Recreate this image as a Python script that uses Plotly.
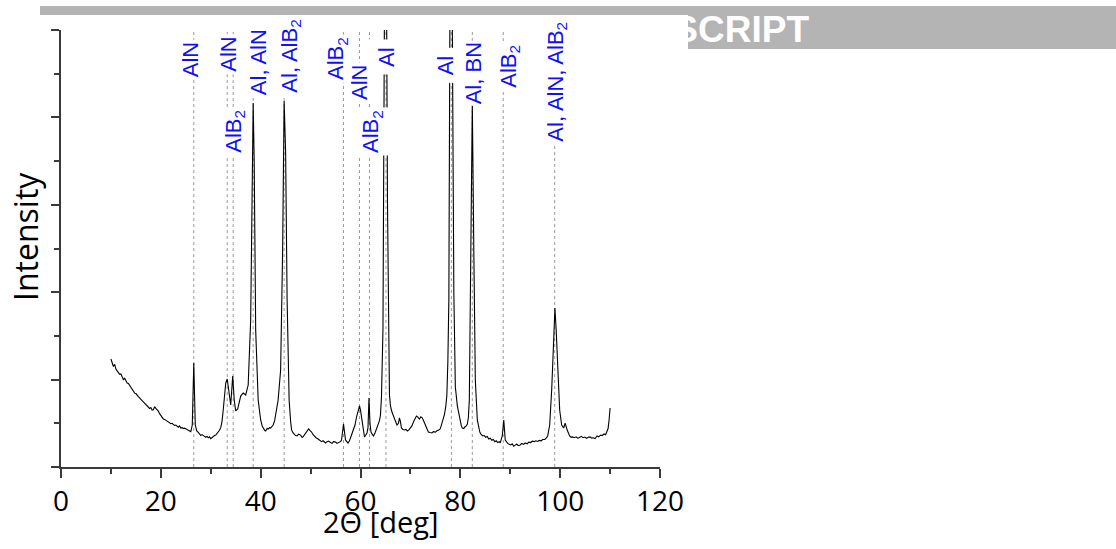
import plotly.graph_objects as go

# XRD scan: diffraction angle 2θ (deg) and detector counts
two_theta = [
    # 10-26 deg
    10.0, 10.25, 10.5, 10.75, 11.0, 11.25, 11.5, 11.75, 12.0, 12.25, 12.5, 12.75, 13.0,
    13.25, 13.5, 13.75, 14.0, 14.25, 14.5, 14.75, 15.0, 15.25, 15.5, 15.75, 16.0, 16.25,
    16.5, 16.75, 17.0, 17.25, 17.5, 17.75, 18.0, 18.25, 18.5, 18.75, 19.0, 19.25, 19.5,
    19.75, 20.0, 20.25, 20.5, 20.75, 21.0, 21.25, 21.5, 21.75, 22.0, 22.25, 22.5, 22.75,
    23.0, 23.25, 23.5, 23.75, 24.0, 24.25, 24.5, 24.75, 25.0, 25.25, 25.5, 25.75, 26.0,
    # 26-32 deg
    26.3, 26.6, 26.9, 27.2, 27.5, 27.75, 28.0, 28.25, 28.5, 28.75, 29.0, 29.25, 29.5,
    29.75, 30.0, 30.25, 30.5, 30.75, 31.0, 31.25, 31.5, 31.75, 32.0, 32.25,
    # 32-40 deg
    32.5, 33.0, 33.3, 33.7, 34.0, 34.4, 34.7, 35.0, 35.4, 36.0, 36.5, 37.0, 37.5, 38.0,
    38.3, 38.5, 38.7, 39.0, 39.5,
    # 40-46 deg
    39.8, 40.0, 40.3, 40.5, 40.8, 41.0, 41.3, 41.5, 41.8, 42.0, 42.3, 42.5, 42.8, 43.0,
    43.3, 43.5, 44.0, 44.4, 44.7, 45.0, 45.3, 45.7, 46.0,
    # 46-57 deg
    46.2, 46.5, 46.7, 47.0, 47.3, 47.6, 48.0, 48.3, 48.5, 48.8, 49.0, 49.3, 49.6, 49.9,
    50.2, 50.5, 50.8, 51.1, 51.5, 51.8, 52.2, 52.5, 52.8, 53.0, 53.3, 53.6, 54.0, 54.3,
    54.6, 55.0, 55.3, 55.7, 56.0, 56.2, 56.6,
    # 57-65 deg
    57.0, 57.3, 57.5, 57.8, 58.0, 58.3, 58.6, 58.9, 59.2, 59.5, 59.8, 60.0, 60.3, 60.5,
    60.8, 61.0, 61.3, 61.5, 61.7, 61.9, 62.1, 62.4, 62.6, 62.9, 63.1, 63.4, 63.6, 63.8,
    64.0, 64.2, 64.5,
    # 65-78 deg
    64.9, 65.1, 65.4, 65.8, 66.0, 66.3, 66.6, 66.8, 67.0, 67.3, 67.6, 67.8, 68.0, 68.2,
    68.5, 68.8, 69.1, 69.4, 69.7, 70.0, 70.3, 70.6, 70.9, 71.2, 71.5, 71.8, 72.1, 72.4,
    72.7, 73.0, 73.3, 73.6, 73.9, 74.3, 74.6, 75.0, 75.3, 75.7, 76.0, 76.3, 76.6, 76.8,
    77.1, 77.3, 77.5, 77.7,
    # 78-84 deg
    78.0, 78.3, 78.7, 79.0, 79.4, 79.9, 80.2, 80.4, 80.7, 80.9, 81.2, 81.4, 81.6, 81.8,
    82.1, 82.4, 82.7, 83.0, 83.4, 83.9,
    # 84-98 deg
    84.2, 84.5, 84.8, 85.1, 85.4, 85.7, 86.0, 86.3, 86.6, 86.9, 87.2, 87.5, 87.8, 88.0,
    88.4, 88.7, 89.0, 89.3, 89.5, 89.8, 90.1, 90.4, 90.7, 91.0, 91.3, 91.6, 92.0, 92.3,
    92.7, 93.0, 93.4, 93.7, 94.1, 94.4, 94.8, 95.1, 95.5, 95.8, 96.2, 96.5, 96.9, 97.2,
    97.5,
    # 98-102 deg
    97.9, 98.3, 98.7, 98.95, 99.2, 99.5, 99.9, 100.3, 100.7, 101.0, 101.4, 101.9,
    # 102-110 deg
    102.2, 102.5, 102.8, 103.2, 103.5, 103.9, 104.2, 104.6, 104.9, 105.3, 105.6, 106.0,
    106.3, 106.7, 107.0, 107.4, 107.7, 108.1, 108.4, 108.8, 109.1, 109.4, 109.6, 109.8,
    110.0,
]
intensity = [
    # 10-26 deg
    1236, 1190, 1150, 1175, 1120, 1100, 1085, 1060, 1065, 1030, 1000, 1015, 985,
    960, 955, 930, 920, 880, 870, 845, 840, 815, 805, 790, 780, 760,
    745, 730, 715, 700, 690, 670, 680, 650, 655, 690, 670, 660, 640,
    610, 585, 565, 550, 545, 535, 525, 515, 505, 495, 500, 485, 475,
    480, 465, 455, 470, 445, 450, 440, 445, 432, 428, 420, 415, 405,
    # 26-32 deg
    480, 1190, 480, 412, 395, 380, 360, 370, 355, 350, 340, 350, 335,
    345, 325, 340, 350, 360, 365, 380, 400, 420, 450, 520,
    # 32-40 deg
    652, 961, 1007, 824, 709, 1041, 766, 641, 664, 812, 847, 824, 938, 1682,
    3512, 4164, 3512, 1567, 766,
    # 40-46 deg
    600, 538, 470, 446, 420, 412, 440, 435, 450, 446, 470, 480, 530, 595,
    680, 766, 1110, 2482, 4187, 3604, 1910, 766, 520,
    # 46-57 deg
    423, 390, 378, 360, 355, 375, 365, 340, 345, 370, 390, 410, 435, 415,
    400, 370, 345, 335, 320, 310, 290, 300, 280, 275, 290, 297, 280, 270,
    290, 286, 270, 280, 290, 309, 492,
    # 57-65 deg
    309, 280, 275, 300, 332, 380, 423, 480, 572, 640, 698, 650, 538, 430,
    343, 360, 389, 450, 789, 500, 400, 370, 355, 390, 423, 470, 492, 530,
    595, 800, 1567,
    # 65-78 deg
    6500, 7000, 3054, 824, 700, 629, 580, 538, 520, 480, 500, 561, 520, 446,
    430, 423, 430, 412, 425, 446, 470, 515, 560, 583, 570, 549, 575, 561,
    520, 480, 430, 400, 395, 389, 405, 400, 415, 423, 440, 492, 540, 595,
    700, 824, 1200, 1910,
    # 78-84 deg
    6500, 6000, 2000, 915, 700, 538, 470, 446, 440, 458, 470, 492, 560, 766,
    2482, 4164, 2482, 995, 538, 400,
    # 84-98 deg
    370, 355, 360, 340, 350, 320, 330, 305, 315, 290, 300, 280, 290, 275,
    355, 538, 309, 285, 270, 260, 252, 265, 238, 250, 263, 245, 252, 270,
    258, 275, 265, 285, 280, 295, 290, 300, 292, 305, 300, 315, 315, 330,
    355,
    # 98-102 deg
    480, 881, 1453, 1819, 1567, 1110, 652, 480, 446, 503, 423, 355,
    # 102-110 deg
    340, 345, 335, 345, 330, 338, 350, 335, 342, 328, 340, 345,
    330, 335, 325, 355, 345, 366, 360, 378, 370, 412, 440, 538,
    675,
]
assert len(two_theta) == len(intensity)

# Phase assignments of the reflections
ref_pos = [26.6, 33.3, 34.5, 38.5, 44.7, 56.6, 59.8, 61.8, 65.1, 78.2, 82.4, 88.6, 98.9]
ref_text = [
    "AlN", "AlN", "AlB<sub>2</sub>", "Al, AlN", "Al, AlB<sub>2</sub>", "AlB<sub>2</sub>",
    "AlN", "AlB<sub>2</sub>", "Al", "Al", "Al, BN", "AlB<sub>2</sub>",
    "Al, AlN, AlB<sub>2</sub>",
]

x_ticks = [0, 20, 40, 60, 80, 100, 120]
x_title = "2\u0398 [deg]"
y_title = "Intensity"
banner_text = "ACCEPTED MANUSCRIPT"

# page geometry (pixels)
W, H = 1116, 549
plot_left, plot_right, plot_top, plot_bottom = 61, 660, 30, 467
label_bottom_px = [80, 75, 156, 98, 96, 83, 103, 156, 75, 83, 106, 91, 145]
label_shift_px = [-3, 1, 1, 5, 7, -7, 0, 2, 0, -6, 1, 6, 2]
label_pad_px = [2, 2, 2, 2, 2, 2, 2, 2, 7, 7, 1, 2, 2]

AXIS_COLOR = "#3a3a3a"
TICK_FONT = "Open Sans"
LABEL_FONT = "Liberation Sans"


def px_x(p):
    return p / W


def px_y(p):
    return 1 - p / H


fig = go.Figure()

fig.add_trace(go.Scatter(
    x=two_theta, y=intensity, mode="lines",
    line=dict(color="black", width=1.1), hoverinfo="skip",
))

shapes = [
    # grey journal banner
    dict(type="rect", xref="paper", yref="paper", layer="below",
         x0=px_x(40), x1=1, y0=px_y(49), y1=px_y(6),
         fillcolor="#b4b4b4", line=dict(width=0)),
    # banner caption
    dict(type="rect", xref="paper", yref="paper", layer="below",
         x0=px_x(40), x1=px_x(815), y0=px_y(47), y1=px_y(4),
         fillcolor="rgba(0,0,0,0)", line=dict(width=0),
         label=dict(text=banner_text, textposition="middle right",
                    font=dict(family=LABEL_FONT, size=37, color="white", weight="bold"))),
    # figure panel laid over the banner
    dict(type="rect", xref="paper", yref="paper", layer="below",
         x0=0, x1=px_x(688), y0=0, y1=px_y(15),
         fillcolor="white", line=dict(width=0)),
]
for p in ref_pos:
    shapes.append(dict(type="line", xref="x", yref="y domain", layer="below",
                       x0=p, x1=p, y0=0, y1=1,
                       line=dict(color="#9a9a9a", width=1, dash="3px,3px")))

annotations = []
for p, t, b, s, pad in zip(ref_pos, ref_text, label_bottom_px, label_shift_px, label_pad_px):
    annotations.append(dict(
        x=p, xref="x", y=px_y(b), yref="paper", text=t, textangle=-90,
        xanchor="center", yanchor="bottom", xshift=s, showarrow=False,
        bgcolor="white", borderpad=pad,
        font=dict(family=LABEL_FONT, size=22, color="#1010f0"),
    ))
annotations.append(dict(
    x=px_x(381), y=px_y(521), xref="paper", yref="paper", text=x_title,
    showarrow=False, xanchor="center", yanchor="middle",
    font=dict(family=TICK_FONT, size=29, color="black"),
))
annotations.append(dict(
    x=px_x(25), y=px_y(237), xref="paper", yref="paper", text=y_title,
    textangle=-90, showarrow=False, xanchor="center", yanchor="middle",
    font=dict(family=TICK_FONT, size=32, color="black"),
))

fig.update_layout(
    width=W, height=H, autosize=False,
    margin=dict(l=0, r=0, t=0, b=0, pad=0, autoexpand=False),
    paper_bgcolor="white", plot_bgcolor="rgba(0,0,0,0)",
    showlegend=False,
    shapes=shapes, annotations=annotations,
    xaxis=dict(
        domain=[px_x(plot_left), px_x(plot_right)], range=[0, 120], automargin=False,
        tickvals=x_ticks, ticks="outside", ticklen=9, tickwidth=1.5,
        tickcolor=AXIS_COLOR, showline=True, linecolor=AXIS_COLOR, linewidth=1.5,
        showgrid=False, zeroline=False,
        tickfont=dict(family=TICK_FONT, size=28, color="black"),
        minor=dict(ticks="outside", ticklen=5, dtick=10, tickwidth=1.5,
                   tickcolor=AXIS_COLOR, showgrid=False),
    ),
    yaxis=dict(
        domain=[px_y(plot_bottom), px_y(plot_top)], range=[0, 5000], automargin=False,
        dtick=1000, ticks="outside", ticklen=8, tickwidth=1.5,
        tickcolor=AXIS_COLOR, showline=True, linecolor=AXIS_COLOR, linewidth=1.5,
        showgrid=False, zeroline=False, showticklabels=False,
        minor=dict(ticks="outside", ticklen=5, dtick=500, tickwidth=1.5,
                   tickcolor=AXIS_COLOR, showgrid=False),
    ),
)

# keep the page flush with the window edges
page_css = (
    "document.documentElement.style.margin='0';"
    "document.body.style.margin='0';"
    "document.body.style.padding='0';"
    "document.documentElement.style.overflow='hidden';"
    "document.body.style.overflow='hidden';"
)

fig.write_html("out.html", config={"responsive": False}, post_script=page_css)
